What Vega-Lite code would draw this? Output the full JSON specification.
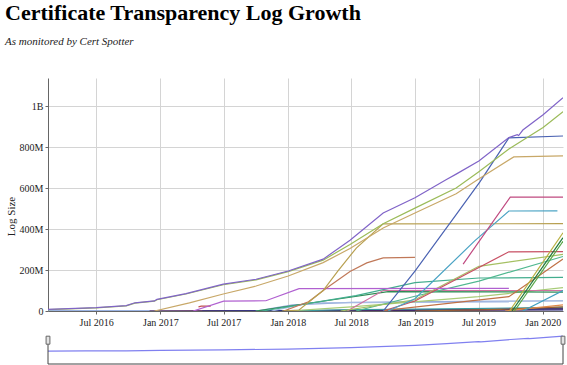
{
  "$schema": "https://vega.github.io/schema/vega-lite/v6.json",
  "background": "white",
  "padding": {"left": 5, "top": 2, "right": 10, "bottom": 2},
  "bounds": "flush",
  "spacing": 19,
  "title": {
    "text": "Certificate Transparency Log Growth",
    "subtitle": "As monitored by Cert Spotter",
    "anchor": "start",
    "frame": "bounds",
    "font": "Liberation Serif",
    "fontSize": 22,
    "fontWeight": "bold",
    "color": "#000000",
    "subtitleFont": "Liberation Serif",
    "subtitleFontSize": 11,
    "subtitleFontStyle": "italic",
    "subtitleColor": "#222222",
    "subtitlePadding": 11,
    "offset": 30
  },
  "config": {
    "font": "Liberation Serif",
    "view": {"stroke": null},
    "title": {"font": "Liberation Serif", "subtitleFont": "Liberation Serif"},
    "axis": {
      "labelFont": "Liberation Serif",
      "labelFontSize": 10,
      "labelColor": "#222222",
      "titleFont": "Liberation Serif",
      "gridColor": "#d4d4d4",
      "gridWidth": 1,
      "domainColor": "#666666",
      "tickColor": "#666666",
      "tickSize": 3
    }
  },
  "resolve": {"scale": {"x": "independent", "y": "independent"}},
  "datasets": {
    "logs": [
      {"log": "Google Aviator", "date": "2016-02-14", "size": 1},
      {"log": "Google Aviator", "date": "2020-02-28", "size": 1},
      {"log": "Symantec Deneb", "date": "2016-12-01", "size": 0},
      {"log": "Symantec Deneb", "date": "2017-06-01", "size": 1},
      {"log": "Symantec Deneb", "date": "2018-06-01", "size": 2},
      {"log": "Symantec Deneb", "date": "2019-06-01", "size": 4},
      {"log": "Symantec Deneb", "date": "2020-02-28", "size": 6},
      {"log": "Venafi Gen2", "date": "2017-05-01", "size": 0},
      {"log": "Venafi Gen2", "date": "2018-06-01", "size": 3},
      {"log": "Venafi Gen2", "date": "2019-06-01", "size": 6},
      {"log": "Venafi Gen2", "date": "2020-02-28", "size": 10},
      {"log": "Comodo Dodo", "date": "2018-03-01", "size": 0},
      {"log": "Comodo Dodo", "date": "2019-03-01", "size": 6},
      {"log": "Comodo Dodo", "date": "2020-02-28", "size": 14},
      {"log": "Google Submariner", "date": "2018-01-01", "size": 0},
      {"log": "Google Submariner", "date": "2018-06-01", "size": 6},
      {"log": "Google Submariner", "date": "2019-06-01", "size": 12},
      {"log": "Google Submariner", "date": "2020-02-28", "size": 18},
      {"log": "StartCom", "date": "2019-01-01", "size": 0},
      {"log": "StartCom", "date": "2019-09-01", "size": 8},
      {"log": "StartCom", "date": "2020-02-28", "size": 20},
      {"log": "DigiCert Nessie2020", "date": "2019-09-15", "size": 0},
      {"log": "DigiCert Nessie2020", "date": "2020-02-28", "size": 30},
      {"log": "DigiCert Log Server", "date": "2017-10-01", "size": 0},
      {"log": "DigiCert Log Server", "date": "2018-01-15", "size": 30},
      {"log": "DigiCert Log Server", "date": "2018-07-01", "size": 42},
      {"log": "DigiCert Log Server", "date": "2019-06-01", "size": 47},
      {"log": "DigiCert Log Server", "date": "2020-02-28", "size": 49},
      {"log": "Symantec Vega", "date": "2017-11-15", "size": 0},
      {"log": "Symantec Vega", "date": "2018-02-15", "size": 33},
      {"log": "Symantec Vega", "date": "2018-03-01", "size": 40},
      {"log": "Symantec Vega", "date": "2019-09-26", "size": 44},
      {"log": "WoSign", "date": "2017-04-20", "size": 20},
      {"log": "WoSign", "date": "2017-04-28", "size": 24},
      {"log": "WoSign", "date": "2017-05-25", "size": 24},
      {"log": "DigiCert Nessie2019", "date": "2018-01-01", "size": 0},
      {"log": "DigiCert Nessie2019", "date": "2018-07-01", "size": 20},
      {"log": "DigiCert Nessie2019", "date": "2019-07-01", "size": 70},
      {"log": "DigiCert Nessie2019", "date": "2020-02-28", "size": 114},
      {"log": "DigiCert Log Server 2", "date": "2017-10-01", "size": 0},
      {"log": "DigiCert Log Server 2", "date": "2018-04-01", "size": 45},
      {"log": "DigiCert Log Server 2", "date": "2018-10-15", "size": 95},
      {"log": "DigiCert Log Server 2", "date": "2020-02-28", "size": 92},
      {"log": "Cloudflare Nimbus2018", "date": "2018-06-20", "size": 0},
      {"log": "Cloudflare Nimbus2018", "date": "2018-10-01", "size": 100},
      {"log": "Cloudflare Nimbus2018", "date": "2020-02-28", "size": 100},
      {"log": "Let's Encrypt Oak2019", "date": "2017-10-20", "size": 0},
      {"log": "Let's Encrypt Oak2019", "date": "2018-07-15", "size": 75},
      {"log": "Let's Encrypt Oak2019", "date": "2018-12-31", "size": 138},
      {"log": "Let's Encrypt Oak2019", "date": "2019-07-02", "size": 161},
      {"log": "Let's Encrypt Oak2019", "date": "2020-02-28", "size": 164},
      {"log": "Sectigo Sabre", "date": "2018-07-15", "size": 0},
      {"log": "Sectigo Sabre", "date": "2018-12-31", "size": 72},
      {"log": "Sectigo Sabre", "date": "2019-07-02", "size": 146},
      {"log": "Sectigo Sabre", "date": "2020-02-28", "size": 266},
      {"log": "Sectigo Mammoth", "date": "2018-06-01", "size": 0},
      {"log": "Sectigo Mammoth", "date": "2018-12-31", "size": 55},
      {"log": "Sectigo Mammoth", "date": "2019-07-02", "size": 218},
      {"log": "Sectigo Mammoth", "date": "2020-02-28", "size": 276},
      {"log": "DigiCert Yeti2019", "date": "2018-10-01", "size": 0},
      {"log": "DigiCert Yeti2019", "date": "2018-12-31", "size": 49},
      {"log": "DigiCert Yeti2019", "date": "2019-09-26", "size": 289},
      {"log": "DigiCert Yeti2019", "date": "2020-02-28", "size": 290},
      {"log": "Cloudflare Nimbus2020", "date": "2018-10-01", "size": 2},
      {"log": "Cloudflare Nimbus2020", "date": "2019-09-26", "size": 70},
      {"log": "Cloudflare Nimbus2020", "date": "2020-02-28", "size": 254},
      {"log": "Let's Encrypt Oak2020", "date": "2019-11-05", "size": 0},
      {"log": "Let's Encrypt Oak2020", "date": "2020-02-28", "size": 100},
      {"log": "Google Skydiver", "date": "2017-04-05", "size": 0},
      {"log": "Google Skydiver", "date": "2017-07-01", "size": 48},
      {"log": "Google Skydiver", "date": "2017-10-30", "size": 50},
      {"log": "Google Skydiver", "date": "2018-02-02", "size": 109},
      {"log": "Google Skydiver", "date": "2019-09-26", "size": 110},
      {"log": "Cloudflare Nimbus2019", "date": "2017-12-20", "size": 0},
      {"log": "Cloudflare Nimbus2019", "date": "2018-03-01", "size": 45},
      {"log": "Cloudflare Nimbus2019", "date": "2018-04-20", "size": 110},
      {"log": "Cloudflare Nimbus2019", "date": "2018-06-28", "size": 193},
      {"log": "Cloudflare Nimbus2019", "date": "2018-08-15", "size": 235},
      {"log": "Cloudflare Nimbus2019", "date": "2018-10-01", "size": 259},
      {"log": "Cloudflare Nimbus2019", "date": "2018-12-31", "size": 262},
      {"log": "Google Argon2018", "date": "2017-12-15", "size": 0},
      {"log": "Google Argon2018", "date": "2018-02-02", "size": 5},
      {"log": "Google Argon2018", "date": "2018-04-12", "size": 100},
      {"log": "Google Argon2018", "date": "2018-05-24", "size": 195},
      {"log": "Google Argon2018", "date": "2018-07-16", "size": 307},
      {"log": "Google Argon2018", "date": "2018-10-01", "size": 425},
      {"log": "Google Argon2018", "date": "2020-02-28", "size": 426},
      {"log": "Google Xenon2019", "date": "2018-10-15", "size": 0},
      {"log": "Google Xenon2019", "date": "2018-12-31", "size": 60},
      {"log": "Google Xenon2019", "date": "2019-06-20", "size": 342},
      {"log": "Google Xenon2019", "date": "2019-09-26", "size": 488},
      {"log": "Google Xenon2019", "date": "2020-02-12", "size": 489},
      {"log": "Google Xenon2020", "date": "2019-05-18", "size": 229},
      {"log": "Google Xenon2020", "date": "2019-09-30", "size": 556},
      {"log": "Google Xenon2020", "date": "2020-02-28", "size": 556},
      {"log": "Google Argon2020", "date": "2019-09-28", "size": 0},
      {"log": "Google Argon2020", "date": "2020-02-28", "size": 382},
      {"log": "DigiCert Yeti2020", "date": "2019-10-05", "size": 0},
      {"log": "DigiCert Yeti2020", "date": "2020-02-28", "size": 358},
      {"log": "Cloudflare Nimbus2021", "date": "2019-10-12", "size": 0},
      {"log": "Cloudflare Nimbus2021", "date": "2020-02-28", "size": 340},
      {"log": "Google Argon2019", "date": "2018-10-01", "size": 0},
      {"log": "Google Argon2019", "date": "2018-12-31", "size": 195},
      {"log": "Google Argon2019", "date": "2019-04-28", "size": 470},
      {"log": "Google Argon2019", "date": "2019-07-05", "size": 630},
      {"log": "Google Argon2019", "date": "2019-09-26", "size": 845},
      {"log": "Google Argon2019", "date": "2020-02-28", "size": 854},
      {"log": "Google Icarus", "date": "2016-12-15", "size": 0},
      {"log": "Google Icarus", "date": "2017-03-25", "size": 40},
      {"log": "Google Icarus", "date": "2017-06-30", "size": 83},
      {"log": "Google Icarus", "date": "2017-10-02", "size": 122},
      {"log": "Google Icarus", "date": "2018-01-02", "size": 171},
      {"log": "Google Icarus", "date": "2018-04-12", "size": 236},
      {"log": "Google Icarus", "date": "2018-06-28", "size": 305},
      {"log": "Google Icarus", "date": "2018-10-01", "size": 405},
      {"log": "Google Icarus", "date": "2018-12-31", "size": 478},
      {"log": "Google Icarus", "date": "2019-04-28", "size": 572},
      {"log": "Google Icarus", "date": "2019-06-27", "size": 639},
      {"log": "Google Icarus", "date": "2019-10-10", "size": 752},
      {"log": "Google Icarus", "date": "2020-02-28", "size": 757},
      {"log": "Google Rocketeer", "date": "2016-02-14", "size": 7},
      {"log": "Google Rocketeer", "date": "2016-07-01", "size": 15},
      {"log": "Google Rocketeer", "date": "2016-09-25", "size": 25},
      {"log": "Google Rocketeer", "date": "2016-10-20", "size": 38},
      {"log": "Google Rocketeer", "date": "2016-12-15", "size": 48},
      {"log": "Google Rocketeer", "date": "2016-12-22", "size": 55},
      {"log": "Google Rocketeer", "date": "2017-03-15", "size": 83},
      {"log": "Google Rocketeer", "date": "2017-06-30", "size": 128},
      {"log": "Google Rocketeer", "date": "2017-10-02", "size": 152},
      {"log": "Google Rocketeer", "date": "2018-01-02", "size": 192},
      {"log": "Google Rocketeer", "date": "2018-04-12", "size": 248},
      {"log": "Google Rocketeer", "date": "2018-06-28", "size": 325},
      {"log": "Google Rocketeer", "date": "2018-10-01", "size": 426},
      {"log": "Google Rocketeer", "date": "2018-12-31", "size": 502},
      {"log": "Google Rocketeer", "date": "2019-04-28", "size": 600},
      {"log": "Google Rocketeer", "date": "2019-07-02", "size": 680},
      {"log": "Google Rocketeer", "date": "2019-09-26", "size": 790},
      {"log": "Google Rocketeer", "date": "2020-01-02", "size": 895},
      {"log": "Google Rocketeer", "date": "2020-02-28", "size": 973},
      {"log": "Google Pilot", "date": "2016-02-14", "size": 8},
      {"log": "Google Pilot", "date": "2016-07-01", "size": 16},
      {"log": "Google Pilot", "date": "2016-09-25", "size": 26},
      {"log": "Google Pilot", "date": "2016-10-20", "size": 40},
      {"log": "Google Pilot", "date": "2016-12-15", "size": 49},
      {"log": "Google Pilot", "date": "2016-12-22", "size": 57},
      {"log": "Google Pilot", "date": "2017-03-15", "size": 85},
      {"log": "Google Pilot", "date": "2017-06-30", "size": 131},
      {"log": "Google Pilot", "date": "2017-10-02", "size": 155},
      {"log": "Google Pilot", "date": "2018-01-02", "size": 195},
      {"log": "Google Pilot", "date": "2018-04-12", "size": 253},
      {"log": "Google Pilot", "date": "2018-06-28", "size": 345},
      {"log": "Google Pilot", "date": "2018-10-01", "size": 478},
      {"log": "Google Pilot", "date": "2018-12-31", "size": 553},
      {"log": "Google Pilot", "date": "2019-03-30", "size": 640},
      {"log": "Google Pilot", "date": "2019-04-28", "size": 668},
      {"log": "Google Pilot", "date": "2019-07-02", "size": 732},
      {"log": "Google Pilot", "date": "2019-09-26", "size": 846},
      {"log": "Google Pilot", "date": "2019-10-20", "size": 860},
      {"log": "Google Pilot", "date": "2019-10-24", "size": 856},
      {"log": "Google Pilot", "date": "2019-11-05", "size": 883},
      {"log": "Google Pilot", "date": "2020-01-02", "size": 958},
      {"log": "Google Pilot", "date": "2020-02-28", "size": 1041}
    ],
    "overview": [
      {"date": "2016-02-14", "value": 38},
      {"date": "2016-06-01", "value": 38.5},
      {"date": "2016-09-15", "value": 39},
      {"date": "2016-09-25", "value": 38.6},
      {"date": "2017-01-01", "value": 40},
      {"date": "2017-07-01", "value": 41.5},
      {"date": "2018-01-01", "value": 44},
      {"date": "2018-07-01", "value": 48},
      {"date": "2019-01-01", "value": 55},
      {"date": "2019-04-01", "value": 60},
      {"date": "2019-07-01", "value": 66},
      {"date": "2019-07-08", "value": 65},
      {"date": "2019-10-01", "value": 72},
      {"date": "2019-11-20", "value": 75.5},
      {"date": "2019-11-25", "value": 74.5},
      {"date": "2020-02-28", "value": 82}
    ]
  },
  "vconcat": [
    {
      "width": 515,
      "height": 233,
      "data": {"name": "logs"},
      "mark": {"type": "line", "strokeWidth": 1.2, "clip": true},
      "encoding": {
        "x": {
          "field": "date",
          "type": "temporal",
          "scale": {
            "type": "utc",
            "domain": [
              {"year": 2016, "month": 2, "date": 14, "utc": true},
              {"year": 2020, "month": 2, "date": 28, "utc": true}
            ]
          },
          "axis": {
            "title": null,
            "format": "%b %Y",
            "labelFont": "Liberation Serif",
            "labelFontSize": 10,
            "values": [
              {"year": 2016, "month": 7, "date": 1, "utc": true},
              {"year": 2017, "month": 1, "date": 1, "utc": true},
              {"year": 2017, "month": 7, "date": 1, "utc": true},
              {"year": 2018, "month": 1, "date": 1, "utc": true},
              {"year": 2018, "month": 7, "date": 1, "utc": true},
              {"year": 2019, "month": 1, "date": 1, "utc": true},
              {"year": 2019, "month": 7, "date": 1, "utc": true},
              {"year": 2020, "month": 1, "date": 1, "utc": true}
            ],
            "grid": true,
            "labelPadding": 3,
            "labelFlush": false
          }
        },
        "y": {
          "field": "size",
          "type": "quantitative",
          "scale": {"domain": [0, 1137], "nice": false, "zero": true},
          "axis": {
            "title": "Log Size",
            "titleFont": "Liberation Serif",
            "titleFontSize": 11,
            "titleFontWeight": "normal",
            "titleColor": "#222222",
            "titlePadding": 3,
            "titleY": 138,
            "labelFont": "Liberation Serif",
            "labelFontSize": 10,
            "values": [0, 200, 400, 600, 800, 1000],
            "labelExpr": "datum.value == 0 ? '0' : (datum.value >= 1000 ? (datum.value / 1000) + 'B' : datum.value + 'M')",
            "grid": true,
            "labelPadding": 2
          }
        },
        "color": {
          "field": "log",
          "type": "nominal",
          "legend": null,
          "scale": {
            "domain": ["Google Aviator", "Symantec Deneb", "Venafi Gen2", "Comodo Dodo", "Google Submariner", "StartCom", "DigiCert Nessie2020", "DigiCert Log Server", "Symantec Vega", "WoSign", "DigiCert Nessie2019", "DigiCert Log Server 2", "Cloudflare Nimbus2018", "Let's Encrypt Oak2019", "Sectigo Sabre", "Sectigo Mammoth", "DigiCert Yeti2019", "Cloudflare Nimbus2020", "Let's Encrypt Oak2020", "Google Skydiver", "Cloudflare Nimbus2019", "Google Argon2018", "Google Xenon2019", "Google Xenon2020", "Google Argon2020", "DigiCert Yeti2020", "Cloudflare Nimbus2021", "Google Argon2019", "Google Icarus", "Google Rocketeer", "Google Pilot"],
            "range": ["#7a9ad8", "#5c1a48", "#26348a", "#4a2a6a", "#3a9aa0", "#a06030", "#e08a4a", "#90a8d8", "#a8bce4", "#c05050", "#a8cc78", "#2f8c55", "#d070a0", "#43ad8e", "#50b890", "#a5c063", "#c85064", "#c07045", "#3fa0c0", "#b060d0", "#c07858", "#b8a050", "#4aa3c4", "#c04a80", "#b8b040", "#1f7a3a", "#58a848", "#4a62b2", "#c8a868", "#9bbb59", "#8064c8"]
          }
        }
      }
    },
    {
      "width": 515,
      "height": 34,
      "layer": [
        {
          "data": {"name": "overview"},
          "mark": {"type": "line", "color": "#8080f0", "strokeWidth": 1.2},
          "encoding": {
            "x": {
              "field": "date",
              "type": "temporal",
              "scale": {
                "type": "utc",
                "domain": [
                  {"year": 2016, "month": 2, "date": 14, "utc": true},
                  {"year": 2020, "month": 2, "date": 28, "utc": true}
                ]
              },
              "axis": null
            },
            "y": {"field": "value", "type": "quantitative", "scale": {"domain": [0, 100]}, "axis": null}
          }
        },
        {
          "data": {"values": [{}]},
          "mark": {"type": "rule", "color": "#444444", "strokeWidth": 1},
          "encoding": {"y": {"datum": 0, "type": "quantitative"}}
        },
        {
          "data": {"values": [{}]},
          "mark": {"type": "rule", "color": "#444444", "strokeWidth": 1},
          "encoding": {
            "x": {"datum": {"year": 2016, "month": 2, "date": 14, "utc": true}, "type": "temporal"},
            "y": {"datum": 0, "type": "quantitative"},
            "y2": {"datum": 70}
          }
        },
        {
          "data": {"values": [{}]},
          "mark": {"type": "rule", "color": "#444444", "strokeWidth": 1},
          "encoding": {
            "x": {"datum": {"year": 2020, "month": 2, "date": 28, "utc": true}, "type": "temporal"},
            "y": {"datum": 0, "type": "quantitative"},
            "y2": {"datum": 70}
          }
        },
        {
          "data": {"values": [{}]},
          "mark": {"type": "point", "shape": "M-0.24,-0.5H0.24V0.5H-0.24Z", "size": 256, "filled": true, "fill": "#e4e4e4", "stroke": "#666666", "strokeWidth": 1, "opacity": 1},
          "encoding": {
            "x": {"datum": {"year": 2016, "month": 2, "date": 14, "utc": true}, "type": "temporal"},
            "y": {"datum": 70, "type": "quantitative"}
          }
        },
        {
          "data": {"values": [{}]},
          "mark": {"type": "point", "shape": "M-0.24,-0.5H0.24V0.5H-0.24Z", "size": 256, "filled": true, "fill": "#e4e4e4", "stroke": "#666666", "strokeWidth": 1, "opacity": 1},
          "encoding": {
            "x": {"datum": {"year": 2020, "month": 2, "date": 28, "utc": true}, "type": "temporal"},
            "y": {"datum": 70, "type": "quantitative"}
          }
        }
      ]
    }
  ]
}
